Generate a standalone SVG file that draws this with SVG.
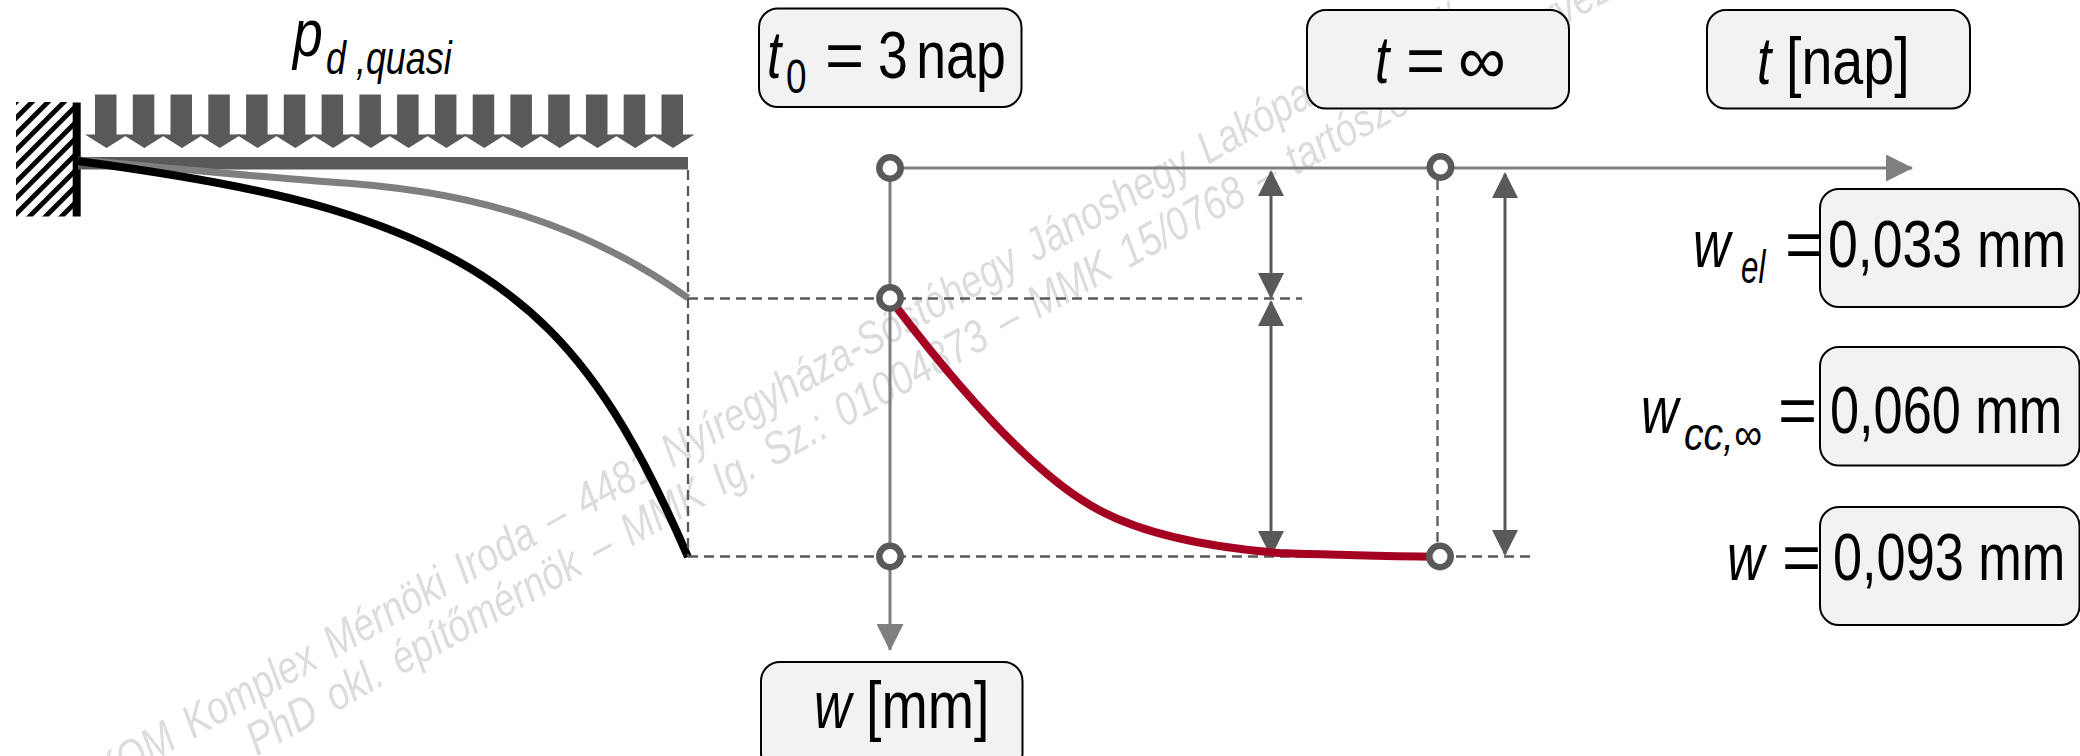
<svg xmlns="http://www.w3.org/2000/svg" width="2080" height="756" viewBox="0 0 2080 756">
<style>
text{font-family:"Liberation Sans",Arial,sans-serif;fill:#000}
.b{font-size:67px}
.i{font-size:67px;font-style:italic}
.s{font-size:46px;font-style:italic}
.box{fill:#f2f2f2;stroke:#000;stroke-width:2}
.dot{fill:#fff;stroke:#595959;stroke-width:6.5}
.wm{font-size:46px;font-style:italic;fill:#dcdcdc;word-spacing:6.8px}
.ax{stroke:#7f7f7f;stroke-width:3;fill:none}
.dim{stroke:#595959;stroke-width:3;fill:none}
.dash{stroke:#595959;stroke-width:2.3;stroke-dasharray:10 6;fill:none}
.load{fill:#595959}
.curve{fill:none;stroke-linecap:butt}
</style>
<defs>
<marker id="ma" markerUnits="userSpaceOnUse" markerWidth="28" markerHeight="27" refX="26" refY="13.5" orient="auto-start-reverse"><path d="M0,0L27,13.5L0,27z" fill="#7f7f7f"/></marker>
<marker id="md" markerUnits="userSpaceOnUse" markerWidth="28" markerHeight="27" refX="24" refY="13" orient="auto-start-reverse"><path d="M0,0L26,13L0,26z" fill="#595959"/></marker>
<pattern id="hatch" patternUnits="userSpaceOnUse" width="16" height="16" x="16" y="102"><path d="M-4,4L4,-4M0,16L16,0M12,20L20,12" stroke="#000" stroke-width="4.8"/></pattern>
<path id="la" d="M10,0H31.500V40H43L21.500,53.500L0,40H10z"/>
<filter id="soft" x="-2%" y="-2%" width="104%" height="104%"><feGaussianBlur stdDeviation="0.7"/></filter>
</defs>
<g id="watermark" filter="url(#soft)">
<text class="wm" transform="translate(104.500,789) rotate(-29.5) scale(.818,1)">KOM Komplex Mérnöki Iroda – 4481 Nyíregyháza-Sóstóhegy Jánoshegy Lakópark – www.</text>
<text class="wm" transform="translate(257,756) rotate(-29.2) scale(.824,1)">PhD okl. építőmérnök – MMK Ig. Sz.: 01004873 – MMK 15/0768 – tartószerkezeti tervező</text>
</g>
<g id="support">
<rect x="16" y="102" width="57" height="114.500" fill="url(#hatch)"/>
<rect x="72.700" y="102.500" width="8" height="114" fill="#000"/>
</g>
<g id="load" class="load">
<use href="#la" x="85" y="94.500"/><use href="#la" x="122.800" y="94.500"/><use href="#la" x="160.500" y="94.500"/><use href="#la" x="198.300" y="94.500"/><use href="#la" x="236.100" y="94.500"/><use href="#la" x="273.800" y="94.500"/><use href="#la" x="311.600" y="94.500"/><use href="#la" x="349.400" y="94.500"/><use href="#la" x="387.100" y="94.500"/><use href="#la" x="424.900" y="94.500"/><use href="#la" x="462.700" y="94.500"/><use href="#la" x="500.400" y="94.500"/><use href="#la" x="538.200" y="94.500"/><use href="#la" x="576" y="94.500"/><use href="#la" x="613.700" y="94.500"/><use href="#la" x="651.500" y="94.500"/>
</g>
<g id="beam">
<rect x="78" y="157" width="610" height="12.500" fill="#595959"/>
<path class="curve" stroke="#7f7f7f" stroke-width="7" d="M78,160C170,168 270,178 330,182C470,190 585,224 688,298"/>
<path class="curve" stroke="#000" stroke-width="8" d="M78,161C160,172 260,188 330,209C525,268 602,358 688,557"/>
</g>
<g id="connectors">
<path class="dash" d="M688,170V556M688,298.500H1302M688,556.500H1530M1437.500,180V556"/>
<line class="ax" x1="890" y1="168" x2="1912" y2="168" marker-end="url(#ma)"/>
<line class="ax" x1="890" y1="168" x2="890" y2="650" marker-end="url(#ma)"/>
<line class="dim" x1="1271" y1="172" x2="1271" y2="297" marker-start="url(#md)" marker-end="url(#md)"/>
<line class="dim" x1="1271" y1="302" x2="1271" y2="555" marker-start="url(#md)" marker-end="url(#md)"/>
<line class="dim" x1="1505" y1="174" x2="1505" y2="554" marker-start="url(#md)" marker-end="url(#md)"/>
<path id="creep-curve" class="curve" stroke="#a50021" stroke-width="8" d="M897,308C960,390 1030,470 1090,505C1125,526 1180,545 1280,553C1333,555 1390,556 1439,557"/>
</g>
<g id="points">
<circle class="dot" cx="890" cy="168" r="10.700"/><circle class="dot" cx="890" cy="298" r="10.700"/><circle class="dot" cx="890" cy="556.500" r="10.700"/><circle class="dot" cx="1440.500" cy="167" r="10.700"/><circle class="dot" cx="1440" cy="556.500" r="10.700"/>
</g>
<g id="label-load">
<text class="i" transform="translate(293,56) scale(.8,1)">p</text>
<text class="s" transform="translate(326,74) scale(.78,1)">d ,quasi</text>
</g>
<g id="node-t0">
<rect class="box" x="759" y="8.500" width="262.500" height="98.500" rx="19"/>
<text class="i" transform="translate(767,78) scale(.77,1)">t</text>
<text font-size="48" transform="translate(786,93) scale(.77,1)">0</text>
<text class="b" transform="translate(825,78)">=</text>
<text class="b" transform="translate(878,78) scale(.8,1)" word-spacing="-8">3 nap</text>
</g>
<g id="node-tinf">
<rect class="box" x="1307" y="10" width="262" height="98.500" rx="19"/>
<text class="i" transform="translate(1375,83) scale(.77,1)">t</text>
<text class="b" transform="translate(1406,83)">=</text>
<text class="b" transform="translate(1458,83)">∞</text>
</g>
<g id="node-t">
<rect class="box" x="1707" y="10" width="263" height="98.500" rx="19"/>
<text class="i" transform="translate(1757,84) scale(.77,1)">t</text>
<text class="b" transform="translate(1786,84) scale(.83,1)">[nap]</text>
</g>
<g id="node-w-axis">
<rect class="box" x="761" y="662" width="261.500" height="110" rx="19"/>
<text class="i" transform="translate(814,728) scale(.77,1)">w</text>
<text class="b" transform="translate(866,728) scale(.83,1)">[mm]</text>
</g>
<g id="node-wel">
<text class="i" transform="translate(1693,267) scale(.77,1)">w</text>
<text class="s" font-size="38" transform="translate(1741,283) scale(.68,1)">el</text>
<text class="b" transform="translate(1785,267)">=</text>
<rect class="box" x="1820" y="189" width="259.500" height="118" rx="19"/>
<text class="b" transform="translate(1828,267) scale(.8,1)">0,033 mm</text>
</g>
<g id="node-wcc">
<text class="i" transform="translate(1641,433) scale(.77,1)">w</text>
<text class="s" font-size="40" transform="translate(1684,450) scale(.85,1)">cc,∞</text>
<text class="b" transform="translate(1778,433)">=</text>
<rect class="box" x="1820" y="347" width="259.500" height="118.500" rx="19"/>
<text class="b" transform="translate(1830,433) scale(.78,1)">0,060 mm</text>
</g>
<g id="node-w">
<text class="i" transform="translate(1727,580) scale(.77,1)">w</text>
<text class="b" transform="translate(1782,580)">=</text>
<rect class="box" x="1820" y="507" width="259.500" height="118" rx="19"/>
<text class="b" transform="translate(1833,580) scale(.78,1)">0,093 mm</text>
</g>
</svg>
